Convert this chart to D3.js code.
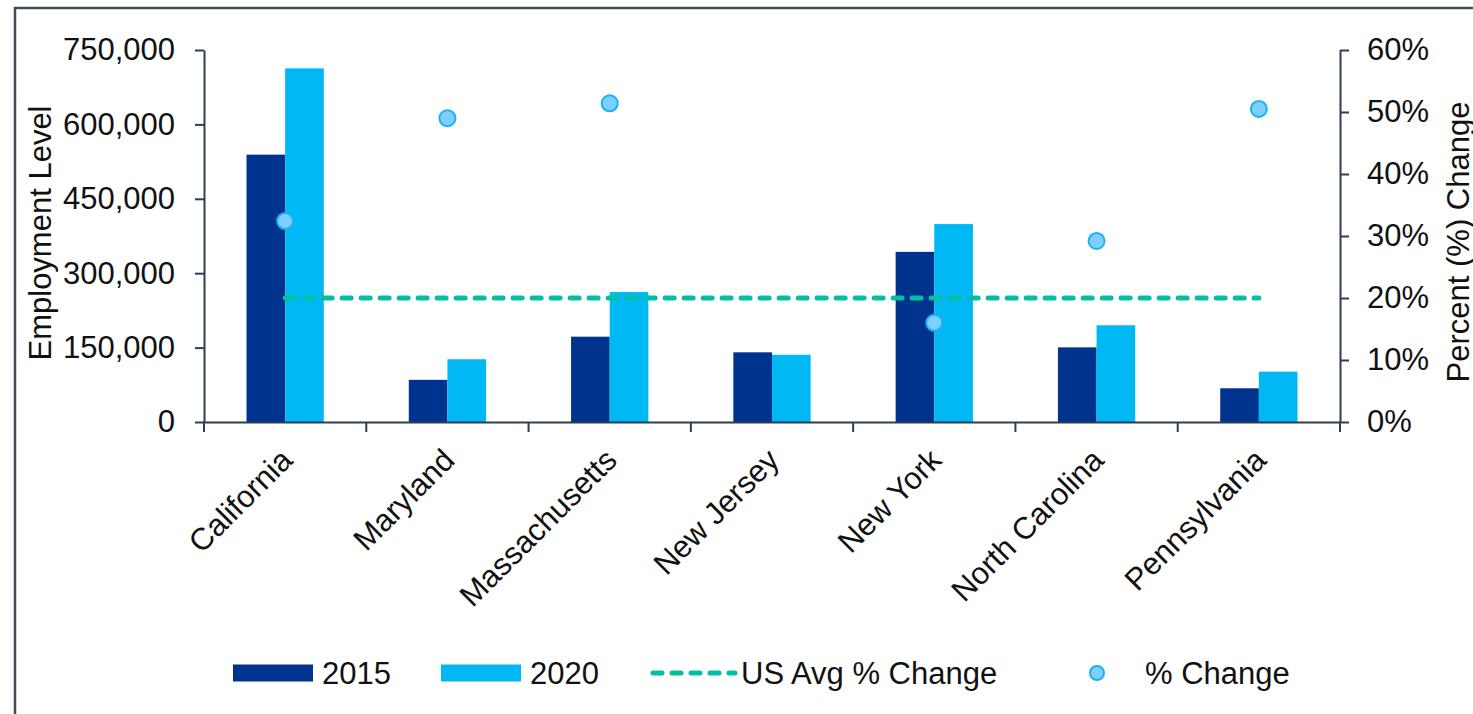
<!DOCTYPE html>
<html>
<head>
<meta charset="utf-8">
<script src="https://cdn.jsdelivr.net/npm/d3@7"></script>
<style>
  body { margin: 0; background: #fff; }
  svg { display: block; font-family: "Liberation Sans", Arial, sans-serif; }
</style>
</head>
<body>
<div id="chart"></div>
<script>
const states = ["California", "Maryland", "Massachusetts", "New Jersey", "New York", "North Carolina", "Pennsylvania"];
const years = ["2015", "2020"];
const emp2015 = [539000, 85000, 172000, 140500, 343000, 150500, 68000];
const emp2020 = [713000, 126500, 262000, 135500, 399000, 195000, 101500];
const pctChange = [0.324, 0.490, 0.514, null, 0.160, 0.292, 0.505];
const usAvgChange = 0.20;
const leftTicks = [0, 150000, 300000, 450000, 600000, 750000];
const rightTicks = [0, 0.1, 0.2, 0.3, 0.4, 0.5, 0.6];

const width = 1473, height = 714;
const margin = { top: 50, right: 133, bottom: 292, left: 204 };
const color = { "2015": "#00338D", "2020": "#00B8F4" };
const axisColor = "#2e3e52";
const lineColor = "#00BFA2";
const fontSize = 31;

const svg = d3.select("#chart").append("svg")
  .attr("width", width)
  .attr("height", height);

// outer frame
svg.append("rect")
  .attr("x", 15).attr("y", 8)
  .attr("width", 1500).attr("height", 800)
  .attr("fill", "none")
  .attr("stroke", "#404c5c")
  .attr("stroke-width", 2.5);

const x0 = d3.scaleBand()
  .domain(states)
  .range([margin.left, width - margin.right])
  .padding(0);
const x1 = d3.scaleBand()
  .domain(years)
  .range([0, x0.bandwidth()])
  .paddingInner(0)
  .paddingOuter(1.1);
const y = d3.scaleLinear()
  .domain([0, 750000])
  .range([height - margin.bottom, margin.top]);
const yR = d3.scaleLinear()
  .domain([0, 0.6])
  .range([height - margin.bottom, margin.top]);

const rows = states.map((s, i) => ({ state: s, "2015": emp2015[i], "2020": emp2020[i], pct: pctChange[i] }));

// bars
const groups = svg.append("g")
  .selectAll("g")
  .data(rows)
  .join("g")
  .attr("transform", (d) => `translate(${x0(d.state)},0)`);
groups.selectAll("rect")
  .data((d) => years.map((k) => ({ key: k, value: d[k] })))
  .join("rect")
  .attr("x", (d) => x1(d.key))
  .attr("y", (d) => y(d.value))
  .attr("width", x1.bandwidth())
  .attr("height", (d) => y(0) - y(d.value))
  .attr("fill", (d) => color[d.key]);

// axes
const fmt = d3.format(",");
const left = svg.append("g")
  .attr("transform", `translate(${margin.left},0)`)
  .call(d3.axisLeft(y).tickValues(leftTicks).tickFormat(fmt).tickSize(9).tickSizeOuter(0).tickPadding(20));
const right = svg.append("g")
  .attr("transform", `translate(${width - margin.right},0)`)
  .call(d3.axisRight(yR).tickValues(rightTicks).tickFormat(d3.format(".0%")).tickSize(9).tickSizeOuter(0).tickPadding(18));
const bottom = svg.append("g")
  .attr("transform", `translate(0,${height - margin.bottom})`)
  .call(d3.axisBottom(x0).tickValues([]).tickSizeOuter(0));
bottom.selectAll(".bnd")
  .data(d3.range(states.length + 1))
  .join("line")
  .attr("class", "bnd")
  .attr("x1", (i) => margin.left + i * x0.step())
  .attr("x2", (i) => margin.left + i * x0.step())
  .attr("y1", 0).attr("y2", 10);

[left, right, bottom].forEach((g) => {
  g.selectAll("path, line").attr("stroke", axisColor).attr("stroke-width", 2);
  g.selectAll("text").attr("fill", "#111").attr("font-size", fontSize).attr("font-family", "Liberation Sans, Arial, sans-serif");
});

// category labels
svg.append("g")
  .selectAll("text")
  .data(states)
  .join("text")
  .attr("transform", (d) => `translate(${x0(d) + x0.bandwidth() / 2 + 9},${height - margin.bottom + 40}) rotate(-45)`)
  .attr("text-anchor", "end")
  .attr("font-size", fontSize)
  .attr("fill", "#111")
  .text((d) => d);

// axis titles
svg.append("text")
  .attr("transform", `translate(51,${(margin.top + height - margin.bottom) / 2 - 3}) rotate(-90)`)
  .attr("text-anchor", "middle")
  .attr("font-size", fontSize)
  .attr("fill", "#111")
  .text("Employment Level");
svg.append("text")
  .attr("transform", `translate(1469,${(margin.top + height - margin.bottom) / 2 + 6}) rotate(-90)`)
  .attr("text-anchor", "middle")
  .attr("font-size", fontSize)
  .attr("fill", "#111")
  .text("Percent (%) Change");

// US average line
const cx = (s) => x0(s) + x0.bandwidth() / 2;
svg.append("line")
  .attr("x1", cx(states[0]))
  .attr("x2", cx(states[states.length - 1]))
  .attr("y1", yR(usAvgChange))
  .attr("y2", yR(usAvgChange))
  .attr("stroke", lineColor)
  .attr("stroke-width", 5)
  .attr("stroke-linecap", "round")
  .attr("stroke-dasharray", "9 10");

// % change dots
svg.append("g")
  .selectAll("circle")
  .data(rows.filter((d) => d.pct != null))
  .join("circle")
  .attr("cx", (d) => cx(d.state))
  .attr("cy", (d) => yR(d.pct))
  .attr("r", 8)
  .attr("fill", "#7ccfff")
  .attr("stroke", "#1ab2f0")
  .attr("stroke-width", 2);

// legend
const legend = svg.append("g").attr("transform", "translate(0,673)");
const legendItems = [
  { label: "2015", kind: "bar", fill: color["2015"], x: 233 },
  { label: "2020", kind: "bar", fill: color["2020"], x: 441 },
  { label: "US Avg % Change", kind: "line", x: 651 },
  { label: "% Change", kind: "dot", x: 1089 },
];
legendItems.forEach((it) => {
  const g = legend.append("g").attr("transform", `translate(${it.x},0)`);
  let tx;
  if (it.kind === "bar") {
    g.append("rect").attr("x", 0).attr("y", -8.5).attr("width", 80).attr("height", 17).attr("fill", it.fill);
    tx = 89;
  } else if (it.kind === "line") {
    g.append("line").attr("x1", 2).attr("x2", 84).attr("y1", 0).attr("y2", 0)
      .attr("stroke", lineColor).attr("stroke-width", 5)
      .attr("stroke-linecap", "round").attr("stroke-dasharray", "9 10");
    tx = 90;
  } else {
    g.append("circle").attr("cx", 8).attr("cy", 0).attr("r", 7)
      .attr("fill", "#7ccfff").attr("stroke", "#1ab2f0").attr("stroke-width", 2);
    tx = 56;
  }
  g.append("text").attr("x", tx).attr("y", 0).attr("dy", "0.36em")
    .attr("font-size", fontSize).attr("fill", "#111").text(it.label);
});
</script>
</body>
</html>
